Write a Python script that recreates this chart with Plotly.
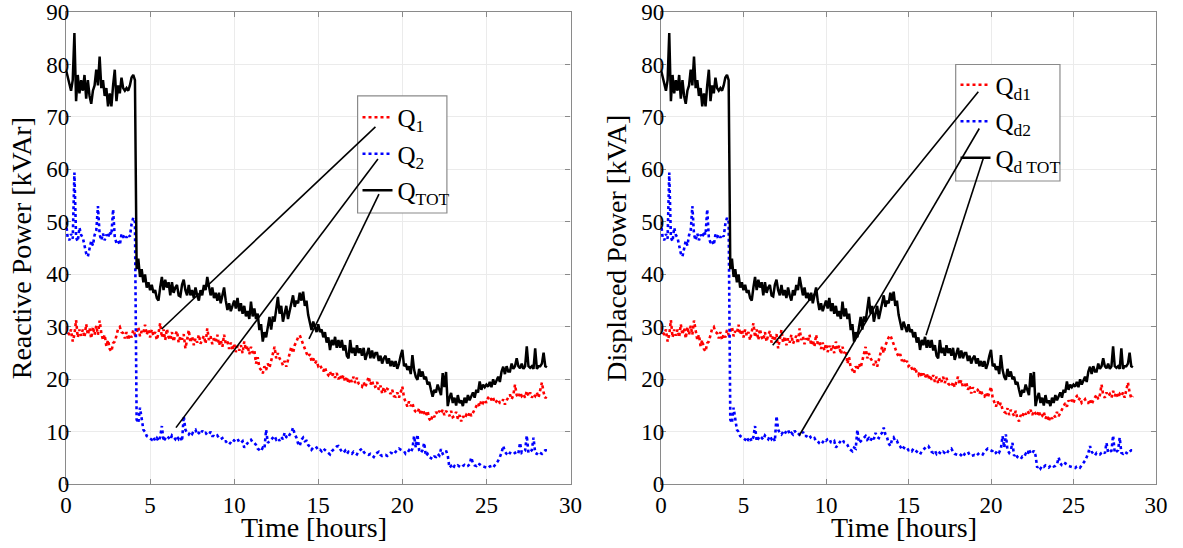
import plotly.graph_objects as go

# sample times (hours), 0.1 h step from 0.0 to 28.6
time_h = [round(i * 0.1, 1) for i in range(287)]

q_tot = [
    79, 77.5, 76, 75, 77, 86, 73, 78, 74.5, 77,
    75, 78, 73.5, 77, 74, 72.5, 75, 76, 79, 76,
    81.5, 75.5, 77, 74, 75.5, 72, 74.5, 72, 76, 79,
    73, 76, 74.5, 77.5, 75.5, 75, 75.5, 75, 76, 77.5,
    78, 77, 41, 43, 39.5, 41, 38.5, 40, 37.5, 38.5,
    37, 38, 36.5, 37, 35.5, 35, 37.5, 39.5, 37, 39,
    37.5, 38.5, 36, 38.5, 36.5, 37.5, 38, 36, 35.8, 38,
    39, 37, 36, 38, 36, 37, 35.5, 37.5, 36, 35,
    37, 36, 38, 37, 39.5, 37.5, 36, 37.5, 35.5, 36.5,
    35, 36.5, 34.5, 36, 37.5, 35, 33.2, 34.5, 33, 34,
    35, 33.5, 35.5, 33, 34.5, 32.5, 34, 32, 33, 31.5,
    34.8, 32, 33.5, 31.5, 32.5, 29.4, 30.5, 27.2, 29, 28,
    30, 31.9, 29.5, 32, 31, 33.5, 35.7, 32.5, 34, 31,
    32.5, 34, 31.5, 33, 35, 36, 33.8, 35, 34.5, 36.5,
    35, 36.7, 34, 35, 32.3, 31, 29.4, 31, 30, 29,
    30.5, 29, 29.5, 28, 29, 27, 28, 25.6, 27.5, 26.5,
    28.1, 26, 27.5, 26, 27.5, 25.5, 26.5, 24.5, 24, 27.5,
    25, 26, 24.5, 26.5, 25, 25.9, 24.5, 26, 23.7, 25,
    26, 24, 25.5, 24, 25, 25, 23.5, 24.5, 23, 24,
    24.5, 23, 24, 22.5, 23.5, 22.4, 23.5, 22, 23, 24.5,
    25.6, 22.5, 23, 21.8, 22.5, 21, 24.6, 21.8, 20.5, 19.9,
    22, 20.5, 21.5, 20, 20.5, 19, 19.5, 18, 16.7, 18,
    17.5, 19, 18, 17, 21.2, 18.5, 21.4, 14.9, 16.5, 17.4,
    15.5, 16.5, 15, 17, 15.5, 16, 14.9, 16.5, 15.5, 17,
    16, 16.8, 17.5, 16.5, 18, 17.5, 19.6, 18, 19, 18.5,
    19, 18.6, 19.5, 18.5, 20, 19, 19.9, 20.5, 19.5, 21.5,
    22.4, 21, 22.5, 21.5, 21.5, 23, 22, 22.5, 24, 22.5,
    22.1, 23, 22, 22.5, 26.3, 22.5, 22.2, 22.5, 22, 25.9,
    22, 22.5, 22.5, 23, 25.1, 22.5, 22.3,
]

q_1 = [
    30, 29, 28.5, 29.5, 27.2, 28.5, 31.3, 28, 29.5, 28.3,
    29.5, 28, 30.5, 28.5, 29.8, 27.8, 30, 28.5, 30.2, 28.5,
    31.2, 28.8, 27.5, 28.5, 26.3, 27.5, 25.8, 25.3, 26.9, 27.2,
    28.3, 29.7, 30, 29, 28.8, 27.8, 29, 27.5, 28.6, 28,
    29.4, 28.5, 28.8, 30, 28.2, 29.2, 28.8, 30.4, 28.5, 29.5,
    28, 29.5, 28.3, 29, 27.5, 28.8, 30.7, 28, 29.5, 27.5,
    29.6, 28, 27.5, 29, 27.2, 28.5, 29.2, 27, 28.2, 27.6,
    28.6, 25.9, 27.5, 29.4, 27, 28.2, 26.5, 27.8, 27, 28.5,
    26.8, 27.5, 28.3, 26.8, 29.7, 27.5, 28.2, 26.7, 27.8, 27.2,
    28.5, 26.5, 27.5, 26.2, 28.5, 26.8, 27.2, 25.8, 27, 25.5,
    26.8, 25.2, 26.4, 25.5, 26.5, 25, 27.2, 25.6, 26.4, 24.8,
    26.2, 25, 25.5, 23, 24.2, 22.2, 21.8, 21.1, 22.5, 21.8,
    23, 22.2, 23.5, 24.5, 26.2, 24, 25, 24, 23.5, 22.7,
    23.5, 22.4, 23.8, 25, 26.2, 25, 26.5, 27.2, 28, 28.4,
    27.5, 26.8, 25.5, 25, 24.3, 24.8, 23.5, 24, 23, 23.5,
    22.5, 22.8, 22.1, 21.5, 22.3, 21.2, 20.8, 21.5, 20.5, 21.1,
    20.3, 21.2, 20, 20.8, 19.9, 20.8, 19.5, 20.5, 19.2, 20.2,
    19.5, 20.5, 19.3, 20.3, 19.2, 18.8, 18.6, 19.5, 18.5, 19.5,
    20.5, 19, 19.8, 18.5, 18.6, 19.5, 18, 18.8, 17.3, 18.5,
    17.5, 18.2, 18, 17.2, 18, 16.8, 16.7, 17.5, 16.5, 17.5,
    18.6, 16.5, 15.5, 14.8, 15.8, 14.9, 15.5, 14.2, 13.8, 13.6,
    14.5, 13.2, 14.2, 13.6, 13, 14, 12.5, 12, 13.2, 12.8,
    13.8, 13.3, 14, 13.5, 14.2, 13.2, 14, 13.5, 13, 14,
    12.8, 13, 13.8, 12.5, 13.2, 12, 13, 12.5, 13.2, 12.8,
    13.8, 13, 13.6, 14.2, 14.9, 15.5, 14.8, 16, 15.5, 16.1,
    15.5, 16.5, 16.8, 16, 16.5, 15.5, 15.8, 16.2, 15.5, 15.5,
    16.2, 15.2, 16, 16.5, 17.1, 16.2, 17, 19, 17, 16.5,
    17.5, 16.8, 17.2, 16.5, 17.8, 16.8, 17.5, 16.5, 17.2, 16.8,
    17.5, 16.5, 17.8, 19.4, 17.5, 16.4, 16.8,
]

q_2 = [
    50, 47, 46.5, 47.7, 46.8, 59.4, 47, 46.3, 48.9, 47.5,
    47, 45.4, 44, 43.4, 45, 46.4, 45.5, 47.5, 48.3, 53,
    47.6, 46.5, 47.8, 46.5, 47.6, 47, 48.2, 47.5, 52.4, 47,
    46, 46.4, 45.6, 47.6, 47, 47.6, 47, 47.6, 47.2, 49.6,
    50.8, 50, 12.3, 11.7, 14.6, 12, 10.4, 10, 9.2, 9,
    8.8, 8.5, 9, 8.3, 8.8, 8.2, 9, 11.1, 8.2, 8.8,
    9.2, 8.9, 8.5, 9.3, 9, 8.6, 9.2, 8.6, 9, 8.2,
    13, 10.4, 9.8, 9.5, 10, 9.6, 10.2, 10.4, 9.5, 9.8,
    9.5, 10.2, 9.7, 9.8, 9.4, 9.5, 10, 9.2, 9.2, 9,
    9.3, 8.8, 8.6, 8.8, 8.2, 8.2, 7.8, 7.6, 8, 8.5,
    8.3, 8.6, 8.7, 8, 7.9, 8.2, 7, 7.5, 8, 8.3,
    8.5, 8, 7.9, 7.5, 6.8, 6.5, 6.3, 7, 6.8, 10.4,
    7.9, 8.2, 8.5, 8.8, 9.2, 8.5, 8.8, 8.3, 9, 8.6,
    9.8, 9, 8.8, 9.5, 9.8, 10.8, 9.5, 8.9, 7.8, 7.3,
    8.5, 8.9, 8.2, 8.3, 7.5, 7.2, 6.6, 7, 6.8, 7,
    6.5, 6.6, 6.3, 6.8, 6.5, 6.2, 6, 5.7, 6.3, 6.6,
    6.8, 7.2, 7.3, 6.8, 6.2, 6, 6.4, 5.8, 6.2, 6,
    5.8, 6.2, 6, 5.7, 6.3, 6.6, 6.8, 6.2, 5.8, 5.7,
    5.6, 5.8, 5.4, 5.2, 5.8, 6, 6.2, 5.6, 5.4, 5.5,
    5.6, 5.4, 5.8, 6, 5.9, 5.7, 6.2, 6.5, 6.8, 6.6,
    6.5, 6.3, 5.8, 6, 6.5, 6.1, 6.8, 9.2, 7, 9.5,
    6.5, 6, 6.5, 7.9, 5.4, 5.8, 5.2, 5, 4.8, 5.3,
    5.2, 5.8, 5.5, 6.7, 5.8, 6, 6.4, 5.5, 3.2, 3.5,
    3, 3.5, 3.3, 3.6, 3.4, 3.2, 3.5, 3.7, 3.4, 3.5,
    3.8, 5.1, 4, 3.6, 3.5, 4, 3.8, 3.5, 3.4, 3.3,
    3.2, 3.1, 3.4, 3.5, 3.2, 3.6, 4, 4.5, 5.2, 6,
    7.3, 6.2, 5.8, 5.5, 6, 5.8, 5.7, 6, 6.2, 5.9,
    7.9, 6, 6.2, 6.4, 9.3, 6, 6.2, 6.5, 8.9, 6,
    5.8, 6.2, 6, 5.8, 6.2, 6.5, 6.5,
]

left_names = ["Q<sub>1</sub>", "Q<sub>2</sub>", "Q<sub>TOT</sub>"]
right_names = ["Q<sub>d1</sub>", "Q<sub>d2</sub>", "Q<sub>d TOT</sub>"]
y_titles = ["Reactive Power [kVAr]", "Displaced Power [kVA]"]
x_title = "Time [hours]"
x_ticks = [0, 5, 10, 15, 20, 25, 30]
y_ticks = [0, 10, 20, 30, 40, 50, 60, 70, 80, 90]

# legend pointer lines: (x0, y0, x1, y1) in data units
left_pointers = [(18.4, 68.1, 5.69, 29.6), (18.55, 62.0, 6.54, 10.8), (18.61, 55.3, 14.45, 27.7)]
right_pointers = [(19.23, 74.8, 6.77, 26.5), (19.29, 67.8, 8.38, 9.3), (19.53, 62.1, 16.06, 28.4)]
# legend frames (x0, x1, y0, y1) in data units
left_box = (17.34, 22.65, 51.7, 74.0)
right_box = (17.86, 24.18, 57.8, 80.0)

FONT = "Liberation Serif"
colors = ["#ff0000", "#0000ff", "#000000"]
dashes = ["dot", "dot", "solid"]
series = [q_1, q_2, q_tot]

W, H = 1183, 548


def px(xp):
    return xp / W


def py(yp):
    return 1 - yp / H


fig = go.Figure()
for panel, (names, leg) in enumerate([(left_names, "legend"), (right_names, "legend2")]):
    xa = "x" if panel == 0 else "x2"
    ya = "y" if panel == 0 else "y2"
    for k, (s, nm, c, d) in enumerate(zip(series, names, colors, dashes)):
        fig.add_trace(go.Scatter(
            x=time_h, y=s, mode="lines", name=nm, xaxis=xa, yaxis=ya,
            line=dict(color=c, width=2.6 if d == "dot" else 2.5, dash=d),
            legend=leg, legendgroup=f"{leg}_{k}",
        ))

shapes = []
for panel, (ptrs, box) in enumerate([(left_pointers, left_box), (right_pointers, right_box)]):
    xr = "x" if panel == 0 else "x2"
    yr = "y" if panel == 0 else "y2"
    shapes.append(dict(type="rect", xref=xr, yref=yr, x0=box[0], x1=box[1], y0=box[2], y1=box[3],
                       fillcolor="white", line=dict(color="#8a8a8a", width=1.2), layer="between"))
    for (x0, y0, x1, y1) in ptrs:
        shapes.append(dict(type="line", xref=xr, yref=yr, x0=x0, y0=y0, x1=x1, y1=y1,
                           line=dict(color="black", width=1.6)))

axis_common = dict(
    showgrid=True, gridcolor="#ebebeb", gridwidth=1,
    showline=True, linecolor="#8a8a8a", linewidth=1.2, mirror="ticks",
    ticks="inside", ticklen=5, tickcolor="#8a8a8a",
    tickfont=dict(family=FONT, size=23, color="black"),
    zeroline=False, automargin=False, ticklabeloverflow="allow",
)
xdom_l = [px(66), px(570.5)]
xdom_r = [px(661), px(1156)]
ydom = [py(484.3), py(12)]

legend_common = dict(
    xanchor="left", yanchor="top", bgcolor="rgba(0,0,0,0)", borderwidth=0,
    font=dict(family=FONT, size=25, color="black"), itemwidth=30, tracegroupgap=1,
)

annotations = [
    dict(text=x_title, xref="paper", yref="paper", x=px(314), y=py(510), xanchor="center",
         yanchor="top", showarrow=False, font=dict(family=FONT, size=28, color="black")),
    dict(text=x_title, xref="paper", yref="paper", x=px(904), y=py(510), xanchor="center",
         yanchor="top", showarrow=False, font=dict(family=FONT, size=28, color="black")),
]

fig.update_layout(
    width=W, height=H,
    margin=dict(l=0, r=0, t=0, b=0),
    paper_bgcolor="white", plot_bgcolor="white",
    font=dict(family=FONT, color="black"),
    xaxis=dict(domain=xdom_l, range=[0, 30], tickvals=x_ticks, **axis_common),
    yaxis=dict(domain=ydom, range=[0, 90], tickvals=y_ticks, ticklabelstandoff=-9,
               title=dict(text=y_titles[0], font=dict(family=FONT, size=28), standoff=6), **axis_common),
    xaxis2=dict(domain=xdom_r, range=[0, 30], tickvals=x_ticks, anchor="y2", **axis_common),
    yaxis2=dict(domain=ydom, range=[0, 90], tickvals=y_ticks, anchor="x2", ticklabelstandoff=-9,
                title=dict(text=y_titles[1], font=dict(family=FONT, size=28), standoff=6), **axis_common),
    legend=dict(x=px(357.5), y=py(94.5), **legend_common),
    legend2=dict(x=px(955.5), y=py(62), **legend_common),
    shapes=shapes,
    annotations=annotations,
    showlegend=True,
)

# the page body has a default 8px margin; remove it so the figure fills the window exactly
fig.write_html("out.html", config={"displayModeBar": False},
               post_script="document.body.style.margin='0px';")
